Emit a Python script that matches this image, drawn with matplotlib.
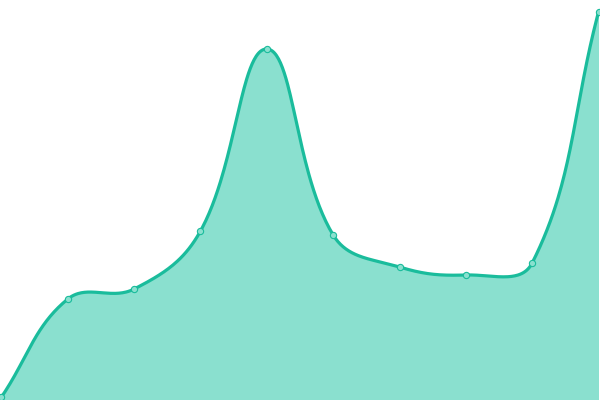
import numpy as np
import matplotlib
matplotlib.use("Agg")
import matplotlib.pyplot as plt

# values (y axis 0..400)
labels = list(range(10))
values = [3, 101, 111, 169, 351, 165, 133, 125, 137, 388]

line_color = "#1abc9c"
fill_color = "#8ae0cf"
tension = 0.4

fig = plt.figure(figsize=(6, 4), dpi=100)
ax = fig.add_axes([0, 0, 1, 1])
ax.set_xlim(-0.0226, 9.0226)
ax.set_ylim(0, 400)
ax.axis("off")

# spline control points computed in pixel space (Chart.js style)
px_per_x = 597 / 9
xs = np.array(labels, dtype=float)
ys = np.array(values, dtype=float)
P = np.column_stack([xs * px_per_x, ys])
n = len(P)
c_prev = P.copy()
c_next = P.copy()
for i in range(n):
    p0 = P[i - 1] if i > 0 else P[i]
    p2 = P[i + 1] if i < n - 1 else P[i]
    d01 = np.hypot(*(P[i] - p0))
    d12 = np.hypot(*(p2 - P[i]))
    tot = d01 + d12
    s01 = d01 / tot if tot else 0
    s12 = d12 / tot if tot else 0
    c_prev[i] = P[i] - tension * s01 * (p2 - p0)
    c_next[i] = P[i] + tension * s12 * (p2 - p0)

t = np.linspace(0, 1, 60)[:, None]
curve = []
for i in range(n - 1):
    a, b, c, d = P[i], c_next[i], c_prev[i + 1], P[i + 1]
    seg = (1 - t) ** 3 * a + 3 * (1 - t) ** 2 * t * b + 3 * (1 - t) * t ** 2 * c + t ** 3 * d
    curve.append(seg if i == 0 else seg[1:])
curve = np.vstack(curve)
cx = curve[:, 0] / px_per_x
cy = curve[:, 1]

ax.fill_between(cx, cy, 0, color=fill_color, linewidth=0)
ax.plot(cx, cy, color=line_color, linewidth=2.3, solid_capstyle="round")
ax.plot(xs, ys, "o", markersize=4.5, markerfacecolor=fill_color,
        markeredgecolor=line_color, markeredgewidth=0.8, clip_on=False)

fig.savefig("out.png", dpi=100)
